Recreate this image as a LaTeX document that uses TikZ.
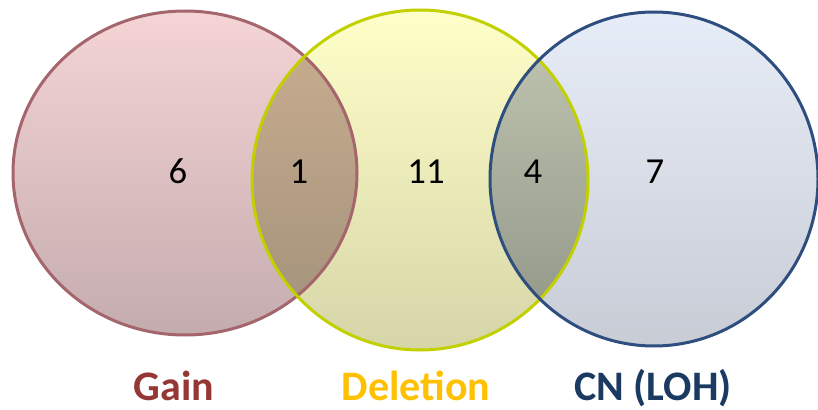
\documentclass[tikz,border=0pt]{standalone}
\usepackage{fontspec}
\setmainfont{Carlito}
\definecolor{gaintop}{HTML}{F5D4D5}
\definecolor{gainmid}{HTML}{EBCBCC}
\definecolor{gainbot}{HTML}{C4ACAE}
\definecolor{gainline}{HTML}{A5656C}
\definecolor{deltop}{HTML}{FFFFC9}
\definecolor{delmid}{HTML}{FBFBC0}
\definecolor{delbot}{HTML}{D6D5A8}
\definecolor{delline}{HTML}{C2D000}
\definecolor{lohtop}{HTML}{E7EDF8}
\definecolor{lohmid}{HTML}{E0E5EE}
\definecolor{lohbot}{HTML}{C8CCD5}
\definecolor{lohline}{HTML}{2D4E7E}
\definecolor{gdtop}{HTML}{CCAF91}
\definecolor{gdmid}{HTML}{C0A78A}
\definecolor{gdbot}{HTML}{9F9079}
\definecolor{dltop}{HTML}{C2C8B2}
\definecolor{dlmid}{HTML}{B5BCA7}
\definecolor{dlbot}{HTML}{8F9486}
\definecolor{gaintext}{HTML}{953735}
\definecolor{deltext}{HTML}{FFC000}
\definecolor{lohtext}{HTML}{1B3A62}

\begin{document}
\begin{tikzpicture}[x = 0.75pt, y = -0.75pt,
    ring/.style = {line width = 2.25pt},
    count/.style = {anchor = base, font = \fontsize{27.5}{30}\selectfont},
    setname/.style = {anchor = base, font = \fontsize{31.5}{36}\selectfont\bfseries}]

    \useasboundingbox (0,0) rectangle (818,410);

    \coordinate (gain) at (185,173);
    \coordinate (del) at (420,180);
    \coordinate (loh) at (654,179);

    \shade [top color = gaintop, middle color = gainmid, bottom color = gainbot] (gain) ellipse [x radius = 172, y radius = 162];
    \shade [top color = deltop, middle color = delmid, bottom color = delbot] (del) ellipse [x radius = 168, y radius = 170];
    \shade [top color = lohtop, middle color = lohmid, bottom color = lohbot] (loh) ellipse [x radius = 164, y radius = 167];

    \begin{scope}
      \clip (gain) ellipse [x radius = 172, y radius = 162];
      \shade [top color = gdtop, middle color = gdmid, bottom color = gdbot] (del) ellipse [x radius = 168, y radius = 170];
    \end{scope}
    \begin{scope}
      \clip (del) ellipse [x radius = 168, y radius = 170];
      \shade [top color = dltop, middle color = dlmid, bottom color = dlbot] (loh) ellipse [x radius = 164, y radius = 167];
    \end{scope}

    \draw [ring, gainline] (gain) ellipse [x radius = 172, y radius = 162];
    \draw [ring, delline] (del) ellipse [x radius = 168, y radius = 170];
    \draw [ring, lohline] (loh) ellipse [x radius = 164, y radius = 167];

    \foreach \x/\n in {178/6, 299/1, 426/11, 533/4, 655/7} {
      \node [count] (n\n) at (\x,183) {\n};
    }

    \node [setname, gaintext] (gainlabel) at (174,400) {Gain};
    \node [setname, deltext] (dellabel) at (416,400) {Deletion};
    \node [setname, lohtext] (lohlabel) at (653,400) {CN (LOH)};
\end{tikzpicture}
\end{document}
